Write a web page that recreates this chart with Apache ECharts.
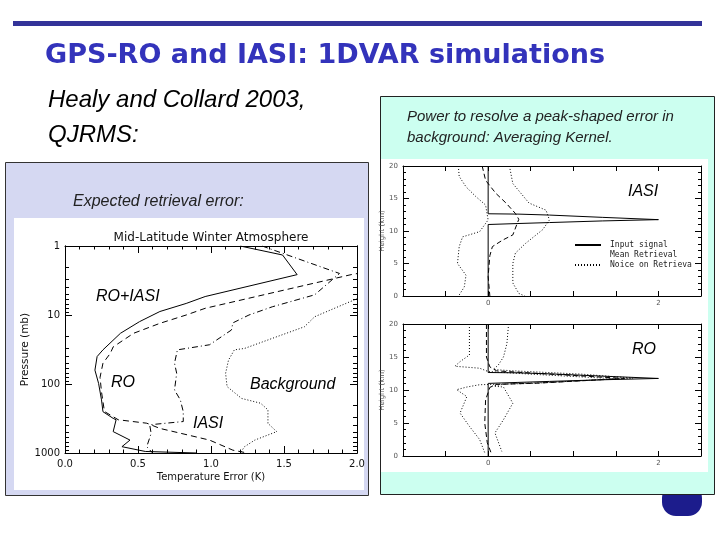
<!DOCTYPE html>
<html>
<head>
<meta charset="utf-8">
<title>GPS-RO and IASI: 1DVAR simulations</title>
<script src="https://cdn.jsdelivr.net/npm/echarts@6.0.0/dist/echarts.min.js"></script>
<style>
  html, body { margin: 0; padding: 0; background: #fff; }
  #chart { width: 720px; height: 540px; }
</style>
</head>
<body>
<div id="chart"></div>
<script>
// expected retrieval error, pairs of [temperature error K, pressure mb]
const errRoIasi = [[1.20, 1], [1.49, 1.35], [1.59, 2.6], [0.96, 5.4], [0.83, 6.8], [0.65, 8.9],
  [0.51, 12.5], [0.38, 18.4], [0.26, 32], [0.22, 40], [0.205, 63], [0.23, 98], [0.25, 170],
  [0.26, 252], [0.33, 315], [0.35, 330], [0.33, 490], [0.445, 650], [0.39, 810], [0.55, 950], [0.9, 1000]]
const errRo = [[2.1, 2.3], [1.96, 2.6], [0.96, 8.0], [0.83, 10], [0.65, 13.2], [0.47, 18.4],
  [0.33, 29], [0.31, 36], [0.26, 50], [0.24, 80], [0.25, 130], [0.27, 250], [0.365, 330],
  [0.56, 370], [0.65, 440], [0.99, 650], [1.15, 910], [1.25, 1000]]
const errIasi = [[1.35, 1], [1.88, 2.5], [1.71, 5.1], [1.42, 7.6], [1.26, 10], [1.15, 13],
  [1.14, 16.5], [0.99, 27], [0.77, 32], [0.75, 50], [0.765, 70], [0.75, 122], [0.79, 170],
  [0.81, 252], [0.81, 350], [0.58, 390], [0.59, 520], [0.56, 810], [0.6, 1000]]
const errBackground = [[2.1, 5], [2.01, 5.7], [1.87, 7.6], [1.71, 10.6], [1.64, 14.8], [1.42, 21.8],
  [1.23, 30.5], [1.16, 32], [1.12, 45], [1.10, 70], [1.11, 109], [1.21, 162], [1.34, 190],
  [1.39, 237], [1.39, 372], [1.45, 490], [1.30, 650], [1.23, 810], [1.2, 1000]]

// averaging kernel, pairs of [response, height km]
const inputSignal = [[0, 0], [0, 11.0], [0.35, 11.15], [0.72, 11.3], [1.34, 11.55], [2, 11.75],
  [1.34, 12.1], [0.72, 12.45], [0.35, 12.6], [0, 12.65], [0, 20]]
const iasiMean = [[-0.07, 20], [-0.03, 17.8], [0.09, 15.8], [0.21, 14.3], [0.32, 12.7], [0.36, 11.8],
  [0.29, 9.4], [0.17, 8.6], [0.05, 7.6], [0.02, 6.2], [0, 3], [0.02, 0]]
const iasiNoiseHi = [[0.25, 20], [0.29, 17.3], [0.48, 14.3], [0.68, 13.2], [0.72, 11.7], [0.64, 10.2],
  [0.44, 8.1], [0.32, 6.6], [0.29, 5], [0.29, 2], [0.36, 0.4], [0.43, 0]]
const iasiNoiseLo = [[-0.35, 20], [-0.34, 18.4], [-0.26, 16.8], [-0.145, 15.3], [-0.03, 14], [0, 11.7],
  [-0.1, 9.9], [-0.3, 9.1], [-0.34, 7.6], [-0.36, 5], [-0.26, 3.2], [-0.28, 1.4], [-0.34, 0.15]]
const roMean = [[-0.02, 20], [-0.02, 15], [0.02, 13.5], [0.1, 12.9], [0.6, 12.5], [1.6, 11.75],
  [0.6, 11.05], [0.1, 10.85], [0.02, 10.4], [-0.03, 8.5], [-0.04, 5], [-0.01, 2], [0.04, 0.3]]
const roNoiseHi = [[0.24, 20], [0.22, 17], [0.18, 15], [0.12, 13.8], [0.06, 13.1], [0.3, 12.9],
  [1.1, 12.4], [1.7, 11.8], [0.8, 11.2], [0.2, 10.9], [0.05, 10.6], [0.18, 10.45], [0.29, 8],
  [0.18, 5.5], [0.08, 3.5], [0.16, 0.7]]
const roNoiseLo = [[-0.22, 20], [-0.22, 18.8], [-0.22, 15.3], [-0.33, 14.3], [-0.39, 13.6], [-0.1, 13.3],
  [0, 12.8], [0.5, 12.4], [1.5, 11.7], [0.5, 11.0], [-0.1, 10.8], [-0.25, 10.45], [-0.37, 10.05],
  [-0.25, 9], [-0.33, 6.5], [-0.22, 4.5], [-0.1, 2.5], [-0.04, 0.5]]

const pressureLabels = [1, 10, 100, 1000]
const pressureMinor = [2, 3, 4, 5, 6, 7, 8, 9, 20, 30, 40, 50, 60, 70, 80, 90, 200, 300, 400, 500, 600, 700, 800, 900]
const kernelLabels = [0, 2]

const chart = echarts.init(document.getElementById("chart"))

const idlFont = "DejaVu Sans"
const black = "#000"

function frameX(gridIndex, opts, showLabel) {
  return {
    type: "value",
    gridIndex,
    min: opts.min,
    max: opts.max,
    interval: opts.interval,
    position: showLabel ? "bottom" : "top",
    axisLine: { show: true, onZero: false, lineStyle: { color: black, width: 1 } },
    axisTick: { show: true, inside: true, length: opts.tick, lineStyle: { color: black } },
    minorTick: { show: !!opts.minor, splitNumber: opts.minor || 5, length: opts.tick / 2, lineStyle: { color: black } },
    splitLine: { show: false },
    axisLabel: {
      show: showLabel,
      formatter: opts.fmt,
      color: opts.labelColor,
      fontSize: opts.fontSize,
      fontFamily: idlFont,
      margin: opts.margin,
    },
    name: showLabel ? opts.name : "",
    nameLocation: "middle",
    nameGap: opts.nameGap,
    nameTextStyle: { color: opts.labelColor, fontSize: opts.nameSize, fontFamily: idlFont },
  }
}

function frameY(gridIndex, opts, showLabel) {
  return {
    type: "value",
    gridIndex,
    min: opts.min,
    max: opts.max,
    interval: opts.interval,
    position: showLabel ? "left" : "right",
    axisLine: { show: true, onZero: false, lineStyle: { color: black, width: 1 } },
    axisTick: { show: true, inside: true, length: opts.tick, lineStyle: { color: black } },
    minorTick: { show: true, splitNumber: 5, length: opts.tick / 2, lineStyle: { color: black } },
    splitLine: { show: false },
    axisLabel: { show: showLabel, color: opts.labelColor, fontSize: opts.fontSize, fontFamily: idlFont, margin: opts.margin },
    name: showLabel ? "Height (km)" : "",
    nameLocation: "middle",
    nameRotate: 90,
    nameGap: opts.nameGap,
    nameTextStyle: { color: opts.labelColor, fontSize: opts.nameSize, fontFamily: idlFont },
  }
}

function pressureAxis(position, ticks, tickLen, showLabel) {
  return {
    type: "log",
    logBase: 10,
    gridIndex: 0,
    min: 1,
    max: 1000,
    inverse: true,
    position,
    axisLine: { show: true, onZero: false, lineStyle: { color: black, width: 1 } },
    axisTick: { show: true, inside: true, length: tickLen, customValues: ticks, lineStyle: { color: black } },
    splitLine: { show: false },
    axisLabel: {
      show: showLabel,
      customValues: pressureLabels,
      formatter: v => String(Math.round(v)),
      color: "#111",
      fontSize: 10,
      fontFamily: idlFont,
      margin: 5,
    },
    name: showLabel ? "Pressure (mb)" : "",
    nameLocation: "middle",
    nameRotate: 90,
    nameGap: 34,
    nameTextStyle: { color: "#111", fontSize: 10.5, fontFamily: idlFont },
  }
}

const errX = {
  min: 0, max: 2, interval: 0.5, tick: 7, minor: 5,
  fmt: v => v.toFixed(1), labelColor: "#111", fontSize: 10, margin: 6,
  name: "Temperature Error (K)", nameGap: 19, nameSize: 10,
}
const kernelX = {
  min: -1, max: 2.5, interval: 0.5, tick: 5, minor: 0,
  fmt: v => (kernelLabels.includes(v) ? String(v) : ""),
  labelColor: "#555", fontSize: 7, margin: 4, name: "", nameGap: 10, nameSize: 7,
}
const kernelY = { min: 0, max: 20, interval: 5, tick: 6, labelColor: "#555", fontSize: 7, margin: 5, nameGap: 15, nameSize: 7 }

function line(name, data, xAxisIndex, yAxisIndex, dash) {
  return {
    type: "line",
    name,
    data,
    xAxisIndex,
    yAxisIndex,
    symbol: "none",
    silent: true,
    animation: false,
    itemStyle: { color: black },
    lineStyle: { color: black, width: 1, type: dash },
  }
}

const solid = "solid"
const dashed = [6, 4]
const dashDot = [6, 3, 1, 3]
const dotted = [1, 2]

function textEl(text, x, y, font, fill, align) {
  return {
    type: "text",
    z: 100,
    style: { text, x, y, font, fill: fill || "#000", textAlign: align || "left", textVerticalAlign: "middle", align: align || "left", verticalAlign: "middle" },
  }
}

const option = {
  backgroundColor: "#fff",
  animation: false,
  grid: [
    { left: 65, top: 246, width: 292, height: 207 },
    { left: 403, top: 166, width: 298, height: 130 },
    { left: 403, top: 324, width: 298, height: 132 },
  ],
  xAxis: [
    frameX(0, errX, true),
    frameX(0, errX, false),
    frameX(1, kernelX, true),
    frameX(1, kernelX, false),
    frameX(2, kernelX, true),
    frameX(2, kernelX, false),
  ],
  yAxis: [
    pressureAxis("left", pressureLabels, 7, true),
    pressureAxis("left", pressureMinor, 4, false),
    pressureAxis("right", pressureLabels, 7, false),
    pressureAxis("right", pressureMinor, 4, false),
    frameY(1, kernelY, true),
    frameY(1, kernelY, false),
    frameY(2, kernelY, true),
    frameY(2, kernelY, false),
  ],
  legend: {
    orient: "vertical",
    left: 569,
    top: 236,
    itemWidth: 26,
    itemHeight: 8,
    itemGap: 2,
    selectedMode: false,
    itemStyle: { opacity: 0 },
    textStyle: { fontSize: 8, fontFamily: "DejaVu Sans Mono", color: "#222", padding: [0, 0, 0, 4] },
    data: [
      { name: "Input signal" },
      { name: "Mean Retrieval", lineStyle: { opacity: 0 } },
      { name: "Noice on Retrieva" },
    ],
  },
  series: [
    line("RO+IASI", errRoIasi, 0, 0, solid),
    line("RO", errRo, 0, 0, dashed),
    line("IASI", errIasi, 0, 0, dashDot),
    line("Background", errBackground, 0, 0, dotted),

    line("Input signal", inputSignal, 2, 4, solid),
    line("Mean Retrieval", iasiMean, 2, 4, [5, 3]),
    line("Noice on Retrieva", iasiNoiseHi, 2, 4, dotted),
    line("Noice on Retrieva", iasiNoiseLo, 2, 4, dotted),

    line("Input signal", inputSignal, 4, 6, solid),
    line("Mean Retrieval", roMean, 4, 6, [5, 3]),
    line("Noice on Retrieva", roNoiseHi, 4, 6, dotted),
    line("Noice on Retrieva", roNoiseLo, 4, 6, dotted),
  ],
  graphic: [
    // slide furniture
    { type: "rect", z: -10, shape: { x: 13, y: 21, width: 689, height: 5 }, style: { fill: "#333399" } },
    { type: "rect", z: -10, shape: { x: 662, y: 484, width: 40, height: 32, r: 14 }, style: { fill: "#1c1c8c" } },
    { type: "rect", z: -10, shape: { x: 5.5, y: 162.5, width: 363, height: 333 }, style: { fill: "#d5d8f2", stroke: "#333", lineWidth: 1 } },
    { type: "rect", z: -9, shape: { x: 14, y: 218, width: 350, height: 272 }, style: { fill: "#fff" } },
    { type: "rect", z: -8, shape: { x: 380.5, y: 96.5, width: 334, height: 398 }, style: { fill: "#ccfff0", stroke: "#222", lineWidth: 1 } },
    { type: "rect", z: -7, shape: { x: 381, y: 159, width: 327, height: 313 }, style: { fill: "#fff" } },

    textEl("GPS-RO and IASI: 1DVAR simulations", 45, 56, 'bold 27px "DejaVu Sans"', "#3333bb"),
    textEl("Healy and Collard 2003,", 48, 100, 'italic 24px "Liberation Sans"'),
    textEl("QJRMS:", 48, 135, 'italic 24px "Liberation Sans"'),
    textEl("Expected retrieval error:", 73, 202, 'italic 16px "Liberation Sans"', "#222"),
    textEl("Power to resolve a peak-shaped error in", 407, 117, 'italic 15px "Liberation Sans"', "#222"),
    textEl("background: Averaging Kernel.", 407, 138, 'italic 15px "Liberation Sans"', "#222"),

    textEl("Mid-Latitude Winter Atmosphere", 211, 238, '12px "DejaVu Sans"', "#111", "center"),
    textEl("RO+IASI", 96, 297, 'italic 16px "Liberation Sans"'),
    textEl("RO", 111, 383, 'italic 16px "Liberation Sans"'),
    textEl("Background", 250, 385, 'italic 16px "Liberation Sans"'),
    textEl("IASI", 193, 424, 'italic 16px "Liberation Sans"'),
    textEl("IASI", 628, 192, 'italic 16px "Liberation Sans"'),
    textEl("RO", 632, 350, 'italic 16px "Liberation Sans"'),
  ],
}

chart.setOption(option)
</script>
</body>
</html>
